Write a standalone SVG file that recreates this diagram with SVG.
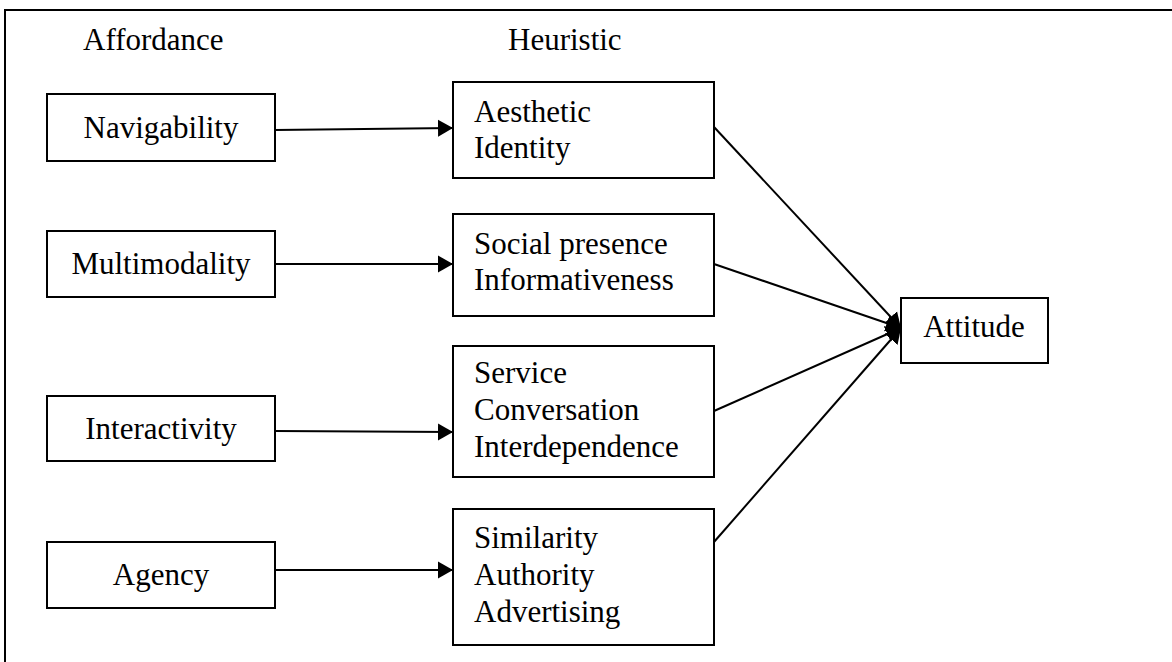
<svg xmlns="http://www.w3.org/2000/svg" width="1172" height="662" viewBox="0 0 1172 662">
<style>
text{font-family:"Liberation Serif","Times New Roman",serif;font-size:31px;fill:#000}
.box{fill:#fff;stroke:#000;stroke-width:2}
.c{text-anchor:middle}
.ln{stroke:#000;stroke-width:2;fill:none}
</style>
<defs>
<marker id="ah" markerUnits="userSpaceOnUse" markerWidth="16" markerHeight="18" refX="15" refY="8.5" orient="auto" viewBox="0 0 16 17">
<path d="M0,0 L15,8.5 L0,17 Z" fill="#000"/>
</marker>
</defs>
<rect width="1172" height="662" fill="#fff"/>
<path d="M5,662 V10 H1172" fill="none" stroke="#000" stroke-width="2"/>
<text x="83" y="50">Affordance</text>
<text x="508" y="50">Heuristic</text>
<g id="connectors">
<line class="ln" x1="275" y1="130" x2="453" y2="128" marker-end="url(#ah)"/>
<line class="ln" x1="275" y1="264" x2="453" y2="264" marker-end="url(#ah)"/>
<line class="ln" x1="275" y1="431" x2="453" y2="432" marker-end="url(#ah)"/>
<line class="ln" x1="275" y1="570" x2="453" y2="570" marker-end="url(#ah)"/>
<line class="ln" x1="714" y1="127" x2="901" y2="328" marker-end="url(#ah)"/>
<line class="ln" x1="714" y1="264" x2="901" y2="328" marker-end="url(#ah)"/>
<line class="ln" x1="714" y1="411" x2="901" y2="328" marker-end="url(#ah)"/>
<line class="ln" x1="714" y1="542" x2="901" y2="328" marker-end="url(#ah)"/>
</g>
<g id="navigability"><rect class="box" x="47" y="94" width="228" height="67"/><text class="c" x="161" y="138">Navigability</text></g>
<g id="multimodality"><rect class="box" x="47" y="231" width="228" height="66"/><text class="c" x="161" y="274">Multimodality</text></g>
<g id="interactivity"><rect class="box" x="47" y="396" width="228" height="65"/><text class="c" x="161" y="439">Interactivity</text></g>
<g id="agency"><rect class="box" x="47" y="542" width="228" height="66"/><text class="c" x="161" y="585">Agency</text></g>
<g id="aesthetic"><rect class="box" x="453" y="82" width="261" height="96"/><text x="474" y="122">Aesthetic</text><text x="474" y="158">Identity</text></g>
<g id="social"><rect class="box" x="453" y="214" width="261" height="102"/><text x="474" y="254">Social presence</text><text x="474" y="290">Informativeness</text></g>
<g id="service"><rect class="box" x="453" y="346" width="261" height="131"/><text x="474" y="383">Service</text><text x="474" y="420">Conversation</text><text x="474" y="457">Interdependence</text></g>
<g id="similarity"><rect class="box" x="453" y="509" width="261" height="136"/><text x="474" y="548">Similarity</text><text x="474" y="585">Authority</text><text x="474" y="622">Advertising</text></g>
<g id="attitude"><rect class="box" x="901" y="298" width="147" height="65"/><text class="c" x="974" y="337">Attitude</text></g>
</svg>
